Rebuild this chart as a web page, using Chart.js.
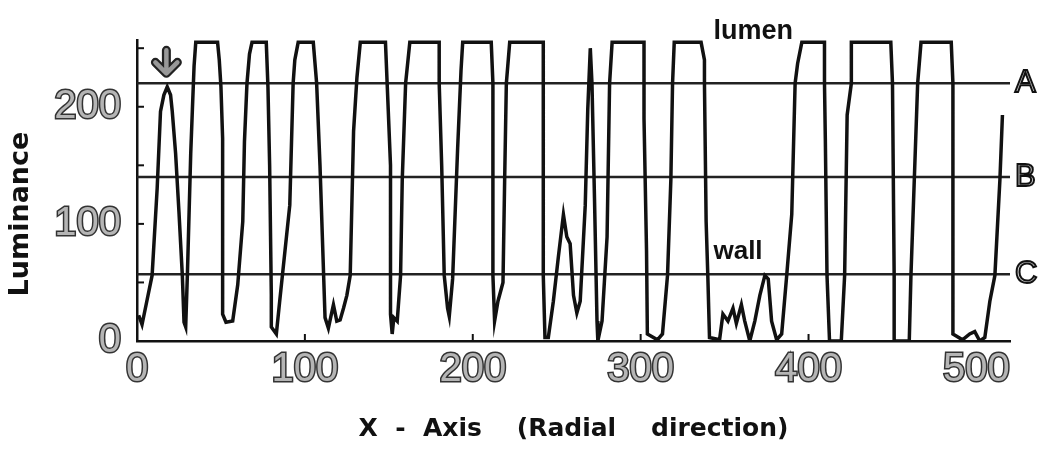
<!DOCTYPE html>
<html>
<head>
<meta charset="utf-8">
<script src="https://cdn.jsdelivr.net/npm/chart.js@4/dist/chart.umd.min.js"></script>
<style>
  body { margin: 0; background: #fff; }
  #wrap { width: 1041px; height: 450px; }
</style>
</head>
<body>
<div id="wrap"><canvas id="myChart"></canvas></div>
<script>
// luminance profile (x = radial position, y = luminance)
var posX = [1,3,6,9,12,14,16,18,20,21,23,25,27,28,29,30,32,33,34,35,48,49,50,51,51,51,53,57,60,63,64,65.5,67,68.5,77,78,79,80,80,83,85,91,93,94,96,105,107,109,112,114,117,119,121,123,125,127,129,131,133,148,149,151,151,152,153,155,157,158,160,162.5,180,180,181.5,183,185,186,188,191,193,194,211,212,212,213,215,218,219,220,222,242,242,242,243,245,248,251,254,256,258,260,262,264,267,268.5,270,271,272.5,274,274.5,277,280,281.5,283,302,302,303.5,304,310,313,316,318,319,320,336,338,338,339,340,341,347,349,352,355,357,360,362,365,368,371,374,376,378,381,384,387,390,392,393.5,396,409.5,409.5,410,411,412.5,419.5,421.5,423,425.5,425.5,449,450,451,451,460,461,463,465,467,485,486,486,486,491.7,496,499,502,505,508,511,514,515.5];
var lum  = [22,14,35,56,130,196,210,217,210,196,160,110,56,16,12,56,160,198,235,255,255,240,217,173,60,23,16,17,48,102,170,220,245,255,255,217,150,40,12,6,34,116,220,240,255,255,220,150,20,11,31,17,18,28,39,56,179,225,255,255,220,150,23,6,20,17,56,138,220,255,255,220,149,56,28,21,53,165,231,255,255,220,56,17,34,50,138,220,255,255,220,56,3,3,34,72,108,89,83,39,24,34,116,198,250,220,122,17,0,17,89,220,255,255,190,77,6,1,6,56,138,220,255,255,240,220,102,56,3,1,23,17,28,15,31,17,0,17,39,56,53,17,1,6,56,108,220,237,255,255,220,173,56,0,0,56,193,220,255,255,220,56,0,0,56,138,220,255,255,220,138,6,1,6,8,0,3,34,56,138,193];

// threshold levels
var levelNames = ['A', 'B', 'C'];
var levelValues = [220, 140, 57];

var xTicks = [0, 100, 200, 300, 400, 500];
var yTicks = [0, 100, 200];
var xMinor = [100, 200, 300, 400];
var yMinor = [50, 100, 150, 200, 250];

function initChart(){
    var ctx = document.getElementById("myChart").getContext("2d");

    var datasets = [{
        data: posX.map(function(x, i){ return {x: x, y: lum[i]}; }),
        borderColor: '#111',
        borderWidth: 3.5,
        pointRadius: 0,
        tension: 0
    }];
    for (var i = 0; i < levelValues.length; i++) {
        datasets.push({
            data: [{x: 0, y: levelValues[i]}, {x: 520, y: levelValues[i]}],
            borderColor: '#222',
            borderWidth: 2.5,
            pointRadius: 0
        });
    }

    var extras = {
        id: 'extras',
        afterDraw: function(chart){
            var c = chart.ctx, a = chart.chartArea;
            var xs = chart.scales.x, ys = chart.scales.y;
            c.save();
            c.strokeStyle = '#111';
            c.lineWidth = 2;
            xMinor.forEach(function(v){
                var px = xs.getPixelForValue(v);
                c.beginPath(); c.moveTo(px, a.bottom); c.lineTo(px, a.bottom - 7); c.stroke();
            });
            yMinor.forEach(function(v){
                var py = ys.getPixelForValue(v);
                c.beginPath(); c.moveTo(a.left, py); c.lineTo(a.left + 7, py); c.stroke();
            });

            // A / B / C level names
            c.textBaseline = 'middle';
            c.textAlign = 'left';
            c.font = '31px "Liberation Sans"';
            c.lineWidth = 2;
            levelNames.forEach(function(n, i){
                var py = ys.getPixelForValue(levelValues[i]);
                c.fillStyle = '#ccc';
                c.fillText(n, a.right + 5, py);
                c.strokeText(n, a.right + 5, py);
            });

            c.textAlign = 'center';
            c.fillStyle = '#111';
            c.font = 'bold 27px "Liberation Sans"';
            c.fillText('lumen', xs.getPixelForValue(367), ys.getPixelForValue(264));
            c.font = 'bold 26px "Liberation Sans"';
            c.fillText('wall', xs.getPixelForValue(358), ys.getPixelForValue(76));

            // arrow pointing at the first peak
            var ax = xs.getPixelForValue(17.5), ay = ys.getPixelForValue(226);
            c.lineCap = 'round';
            c.lineJoin = 'round';
            [[9, '#222'], [4.5, '#999']].forEach(function(st){
                c.lineWidth = st[0];
                c.strokeStyle = st[1];
                c.beginPath();
                c.moveTo(ax, ay - 26); c.lineTo(ax, ay - 3);
                c.moveTo(ax - 11, ay - 14); c.lineTo(ax, ay - 3); c.lineTo(ax + 11, ay - 14);
                c.stroke();
            });
            c.restore();
        }
    };

    var tickFont = {family: 'Liberation Sans', size: 40};

    new Chart(ctx, {
        type: 'line',
        data: {datasets: datasets},
        plugins: [extras],
        options: {
            responsive: true,
            maintainAspectRatio: false,
            animation: false,
            layout: {padding: {top: 29, right: 31, bottom: 0, left: 0}},
            plugins: {legend: {display: false}, tooltip: {enabled: false}},
            scales: {
                x: {
                    type: 'linear',
                    min: 0, max: 520,
                    afterFit: function(s){ s.height = 109; },
                    afterBuildTicks: function(s){ s.ticks = xTicks.map(function(v){ return {value: v}; }); },
                    grid: {display: false, drawTicks: false},
                    border: {display: true, color: '#111', width: 2.5},
                    ticks: {
                        font: tickFont, color: '#b5b5b5', padding: 5,
                        textStrokeColor: '#333', textStrokeWidth: 3,
                        maxRotation: 0, autoSkip: false
                    },
                    title: {
                        display: true,
                        text: 'X  -  Axis    (Radial    direction)',
                        color: '#111',
                        font: {family: 'DejaVu Sans', size: 25, weight: 'bold', lineHeight: 1.2},
                        padding: {top: 0, bottom: 6}
                    }
                },
                y: {
                    min: 0, max: 257,
                    afterFit: function(s){ s.width = 137; },
                    afterBuildTicks: function(s){ s.ticks = yTicks.map(function(v){ return {value: v}; }); },
                    grid: {display: false, drawTicks: false},
                    border: {display: true, color: '#111', width: 2.5},
                    ticks: {
                        font: tickFont, color: '#b5b5b5', padding: 16,
                        textStrokeColor: '#333', textStrokeWidth: 3
                    },
                    title: {
                        display: true,
                        text: 'Luminance     ',
                        color: '#111',
                        font: {family: 'DejaVu Sans', size: 27, weight: 'bold', lineHeight: 1.2},
                        padding: {top: 5, bottom: 0}
                    }
                }
            }
        }
    });
}

initChart();
</script>
</body>
</html>
